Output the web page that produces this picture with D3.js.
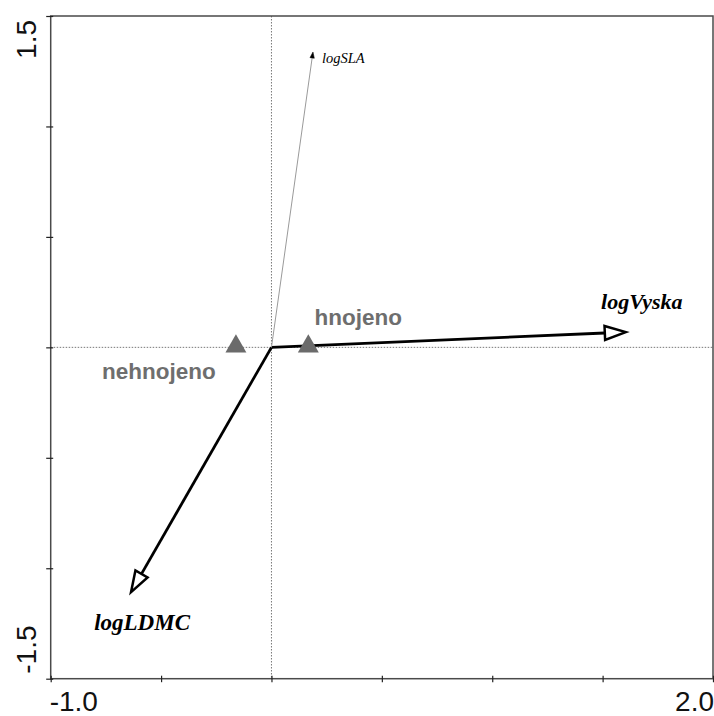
<!DOCTYPE html>
<html>
<head>
<meta charset="utf-8">
<script src="https://cdn.jsdelivr.net/npm/d3@7"></script>
<style>
  html, body { margin: 0; padding: 0; background: #fff; }
  svg { display: block; }
</style>
</head>
<body>
<svg id="chart" width="714" height="716"></svg>
<script>
// Ordination biplot: trait arrows and treatment centroids
const traitNames = ["logVyska", "logLDMC", "logSLA"];
const traitX = [1.605, -0.636, 0.188];
const traitY = [0.069, -1.108, 1.337];

const groupNames = ["hnojeno", "nehnojeno"];
const groupX = [0.167, -0.161];
const groupY = [0.004, 0.004];

const xDomain = [-1.0, 2.0];
const yDomain = [-1.5, 1.5];
const xTicks = [-1.0, -0.5, 0, 0.5, 1.0, 1.5, 2.0];
const yTicks = [-1.5, -1.0, -0.5, 0, 0.5, 1.0, 1.5];
const xTickLabels = ["-1.0", "2.0"];
const yTickLabels = ["-1.5", "1.5"];

const svg = d3.select("#chart");
const L = 50.7, R = 713, T = 16, B = 678.7;

const x = d3.scaleLinear().domain(xDomain).range([L, R]);
const y = d3.scaleLinear().domain(yDomain).range([B, T]);

// zero reference lines
svg.append("line")
  .attr("x1", x(0)).attr("x2", x(0)).attr("y1", T).attr("y2", B)
  .attr("stroke", "#555").attr("stroke-width", 0.8).attr("stroke-dasharray", "1.5,1.5");
svg.append("line")
  .attr("x1", L).attr("x2", R).attr("y1", y(0)).attr("y2", y(0))
  .attr("stroke", "#555").attr("stroke-width", 0.8).attr("stroke-dasharray", "1.5,1.5");

// frame
svg.append("rect")
  .attr("x", L).attr("y", T).attr("width", R - L).attr("height", B - T)
  .attr("fill", "none").attr("stroke", "#4a4a4a").attr("stroke-width", 1.5);

// axes with crossing ticks
const xAxis = svg.append("g").attr("transform", `translate(0,${B})`)
  .call(d3.axisBottom(x).tickValues(xTicks).tickSize(3.5).tickFormat(""));
xAxis.select(".domain").remove();
xAxis.selectAll(".tick line").attr("y1", -3).attr("stroke", "#222").attr("stroke-width", 1.2);

const yAxis = svg.append("g").attr("transform", `translate(${L},0)`)
  .call(d3.axisLeft(y).tickValues(yTicks).tickSize(4.5).tickFormat(""));
yAxis.select(".domain").remove();
yAxis.selectAll(".tick line").attr("x1", 2.5).attr("stroke", "#222").attr("stroke-width", 1.2);

// end labels on axes
const axisFont = "'Liberation Sans', Arial, sans-serif";
svg.append("text").attr("x", x(xDomain[0]) - 1).attr("y", 711)
  .attr("font-family", axisFont).attr("font-size", 28).attr("fill", "#111")
  .attr("text-anchor", "start").text(xTickLabels[0]);
svg.append("text").attr("x", x(xDomain[1]) + 1).attr("y", 711)
  .attr("font-family", axisFont).attr("font-size", 28).attr("fill", "#111")
  .attr("text-anchor", "end").text(xTickLabels[1]);
svg.append("text").attr("transform", `translate(36,${y(yDomain[0]) - 5}) rotate(-90)`)
  .attr("font-family", axisFont).attr("font-size", 28).attr("fill", "#111")
  .attr("text-anchor", "start").text(yTickLabels[0]);
svg.append("text").attr("transform", `translate(36,${y(yDomain[1]) + 4}) rotate(-90)`)
  .attr("font-family", axisFont).attr("font-size", 28).attr("fill", "#111")
  .attr("text-anchor", "end").text(yTickLabels[1]);

// trait arrows
const traits = traitNames.map((n, i) => ({ name: n, x: traitX[i], y: traitY[i] }));
const style = {
  logVyska: { stroke: "#000", width: 2.8, head: "open", len: 21, half: 7, dx: 16, dy: -23, size: 22, anchor: "middle", weight: "bold" },
  logLDMC: { stroke: "#000", width: 2.8, head: "open", len: 21, half: 7, dx: 11, dy: 38, size: 23, anchor: "middle", weight: "bold" },
  logSLA: { stroke: "#9a9a9a", width: 1, head: "solid", len: 6, half: 2.2, dx: 9, dy: 11, size: 14.5, anchor: "start", weight: "normal" }
};

const ox = x(0), oy = y(0);
traits.forEach(t => {
  const s = style[t.name];
  const tx = x(t.x), ty = y(t.y);
  const ang = Math.atan2(ty - oy, tx - ox);
  const ux = Math.cos(ang), uy = Math.sin(ang);
  const bx = tx - ux * s.len, by = ty - uy * s.len;
  svg.append("line")
    .attr("x1", ox).attr("y1", oy).attr("x2", bx).attr("y2", by)
    .attr("stroke", s.stroke).attr("stroke-width", s.width);
  const p1 = [bx - uy * s.half, by + ux * s.half];
  const p2 = [bx + uy * s.half, by - ux * s.half];
  svg.append("path")
    .attr("d", `M${tx},${ty}L${p1[0]},${p1[1]}L${p2[0]},${p2[1]}Z`)
    .attr("fill", s.head === "open" ? "#fff" : "#000")
    .attr("stroke", "#000").attr("stroke-width", s.head === "open" ? 2.5 : 0.5)
    .attr("stroke-linejoin", "miter");
  svg.append("text")
    .attr("x", tx + s.dx).attr("y", ty + s.dy)
    .attr("font-family", "'Liberation Serif', 'Times New Roman', serif")
    .attr("font-style", "italic").attr("font-weight", s.weight)
    .attr("font-size", s.size).attr("text-anchor", s.anchor)
    .attr("fill", "#000").text(t.name);
});

// treatment centroids
const groups = groupNames.map((n, i) => ({ name: n, x: groupX[i], y: groupY[i] }));
const labelOff = { hnojeno: [50, -21], nehnojeno: [-77, 33] };
const tri = d3.symbol().type(d3.symbolTriangle).size(190);
groups.forEach(g => {
  const gx = x(g.x), gy = y(g.y);
  svg.append("path").attr("d", tri())
    .attr("transform", `translate(${gx},${gy})`)
    .attr("fill", "#6b6b6b");
  svg.append("text")
    .attr("x", gx + labelOff[g.name][0]).attr("y", gy + labelOff[g.name][1])
    .attr("font-family", axisFont).attr("font-weight", "bold")
    .attr("font-size", 22.5).attr("text-anchor", "middle")
    .attr("fill", "#6e6e6e").text(g.name);
});
</script>
</body>
</html>
